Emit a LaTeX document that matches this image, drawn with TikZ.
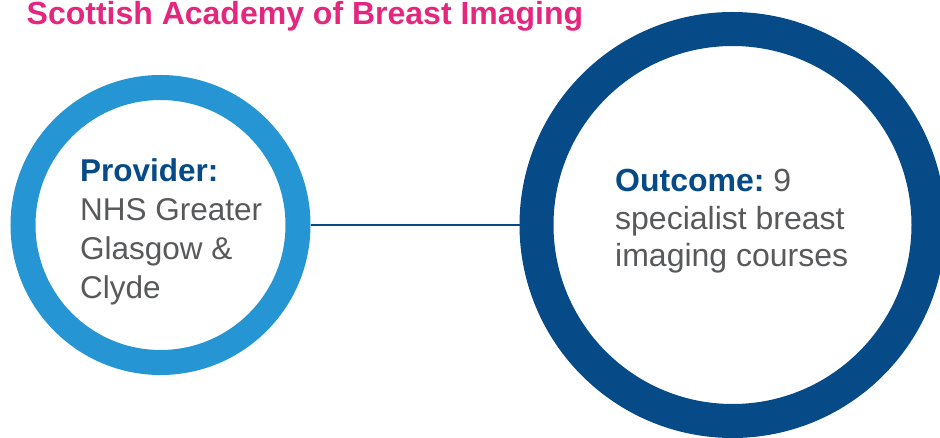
\documentclass[tikz,border=0pt]{standalone}
\usepackage{fontspec}
\setmainfont{Liberation Sans}
\usetikzlibrary{positioning}
\definecolor{sabipink}{HTML}{E5267E}
\definecolor{lightring}{HTML}{2596D3}
\definecolor{darkring}{HTML}{064A87}
\definecolor{bodygrey}{HTML}{58595B}

\begin{document}
\begin{tikzpicture}[x=1pt, y=1pt,
  ring/.style={circle, draw, fill=white, inner sep=0pt},
  body/.style={align=left, inner sep=0pt, text=bodygrey}]
  \useasboundingbox (0,0) rectangle (940,437);
  \node[anchor=base west, inner sep=0pt, text=sabipink, font=\bfseries\fontsize{32}{38}\selectfont] (title) at (26.5,412) {Scottish Academy of Breast Imaging};
  \node[ring, draw=lightring, line width=25pt, minimum size=275pt] (prov) at (160.5,212) {};
  \node[ring, draw=darkring, line width=34pt, minimum size=392pt] (outc) at (732.5,212) {};
  \draw[darkring, line width=1.5pt] (prov) -- (outc);
  \node[body, anchor=base west, font=\fontsize{31.5}{38.8}\selectfont] (provtxt) at (80,139) {\textcolor{darkring}{\bfseries Provider:}\\NHS Greater\\Glasgow \&\\Clyde};
  \node[body, anchor=base west, font=\fontsize{32}{37.5}\selectfont] (outctxt) at (615,170.3) {\textcolor{darkring}{\bfseries Outcome:}~9\\specialist breast\\imaging courses};
\end{tikzpicture}
\end{document}
